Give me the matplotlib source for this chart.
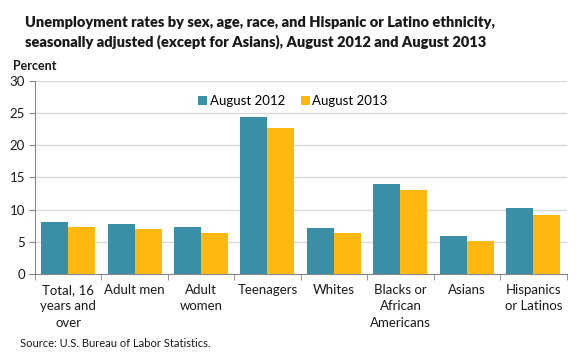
import matplotlib
matplotlib.use("Agg")
import matplotlib.pyplot as plt
import numpy as np

categories = [
    "Total, 16\nyears and\nover",
    "Adult men",
    "Adult\nwomen",
    "Teenagers",
    "Whites",
    "Blacks or\nAfrican\nAmericans",
    "Asians",
    "Hispanics\nor Latinos",
]
aug_2012 = [8.1, 7.7, 7.3, 24.4, 7.2, 14.0, 5.9, 10.2]
aug_2013 = [7.3, 7.0, 6.3, 22.7, 6.4, 13.0, 5.1, 9.2]
y_ticks = [0, 5, 10, 15, 20, 25, 30]

TEAL = "#3A8FA7"
GOLD = "#FFB80F"
TEXT = "#1a1a1a"

plt.rcParams["font.family"] = ["Lato", "DejaVu Sans"]

fig = plt.figure(figsize=(5.8, 3.6), dpi=100)
ax = fig.add_axes([0.060, 0.239, 0.917, 0.536])

x = np.arange(len(categories))
w = 0.406
ax.bar(x - w / 2, aug_2012, width=w, color=TEAL, label="August 2012", zorder=3)
ax.bar(x + w / 2, aug_2013, width=w, color=GOLD, label="August 2013", zorder=3)

ax.set_xlim(-0.5, len(categories) - 0.5)
ax.set_ylim(0, 30)
ax.set_yticks(y_ticks)
ax.tick_params(axis="y", labelsize=9.5, length=4, color="#868686", labelcolor=TEXT, pad=3)
ax.yaxis.grid(True, color="#D9D9D9", linewidth=1, zorder=0)

ax.set_xticks(x)
ax.set_xticklabels(categories, fontsize=9.5, color=TEXT, va="top", linespacing=1.45)
ax.tick_params(axis="x", which="major", length=0, pad=7)
ax.set_xticks(np.arange(len(categories) + 1) - 0.5, minor=True)
ax.tick_params(axis="x", which="minor", length=4, color="#868686", direction="out")

for side in ["top", "right"]:
    ax.spines[side].set_visible(False)
for side in ["left", "bottom"]:
    ax.spines[side].set_color("#868686")

ax.legend(loc="upper center", bbox_to_anchor=(0.485, 0.99), ncol=2, frameon=False,
          fontsize=9.5, handlelength=0.7, handleheight=0.7, handletextpad=0.2,
          columnspacing=1.2)

fig.text(0.043, 0.955,
         "Unemployment rates by sex, age, race, and Hispanic or Latino ethnicity,\n"
         "seasonally adjusted (except for Asians), August 2012 and August 2013",
         fontsize=10.5, fontweight="heavy", color=TEXT, va="top", linespacing=1.45)
fig.text(0.022, 0.818, "Percent", fontsize=9, fontweight="bold", color=TEXT, va="center")
fig.text(0.035, 0.045, "Source: U.S. Bureau of Labor Statistics.", fontsize=8,
         color=TEXT, va="center")

fig.savefig("out.png", dpi=100)
